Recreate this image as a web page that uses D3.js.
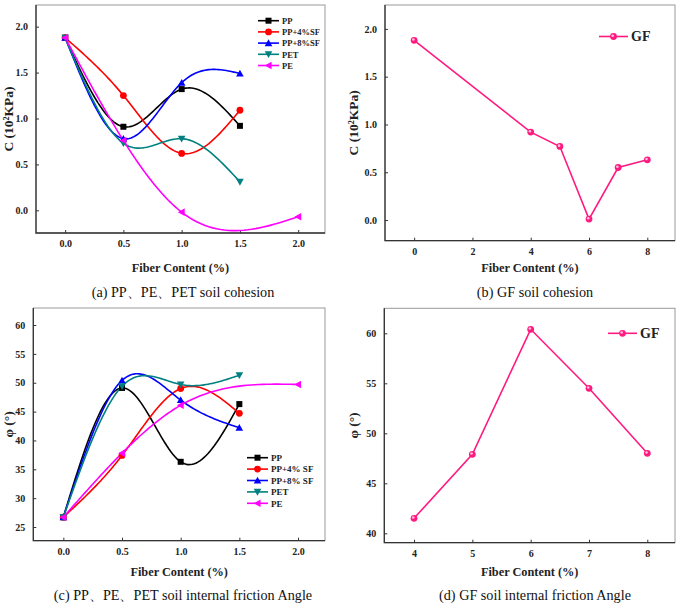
<!DOCTYPE html>
<html>
<head>
<meta charset="utf-8">
<script src="https://cdn.jsdelivr.net/npm/d3@7"></script>
<style>
  body { margin: 0; background: #fff; }
  text { font-family: "Liberation Serif", "Times New Roman", serif; }
</style>
</head>
<body>
<div id="chart"></div>
<script>
var w = 682;
var h = 607;

// panel (a) / (c) data
var fiberX = [0, 0.5, 1.0, 1.5];
var peX = [0, 0.5, 1.0, 2.0];
var seriesNames = ["PP", "PP+4%SF", "PP+8%SF", "PET", "PE"];
var seriesNamesC = ["PP", "PP+4% SF", "PP+8% SF", "PET", "PE"];
var cohPP = [1.88, 0.91, 1.32, 0.92];
var cohPP4 = [1.88, 1.25, 0.62, 1.09];
var cohPP8 = [1.88, 0.78, 1.39, 1.49];
var cohPET = [1.88, 0.73, 0.78, 0.31];
var cohPE = [1.88, 0.76, -0.02, -0.07];
var phiPP = [26.7, 49.1, 36.3, 46.3];
var phiPP4 = [26.7, 37.4, 49.0, 44.7];
var phiPP8 = [26.7, 50.4, 47.0, 42.2];
var phiPET = [26.7, 49.4, 49.7, 51.3];
var phiPE = [26.7, 37.8, 46.1, 49.7];

// panel (b) / (d) data
var gfX = [0, 4, 5, 6, 7, 8];
var gfCoh = [1.88, 0.92, 0.77, 0.01, 0.55, 0.63];
var gfX2 = [4, 5, 6, 7, 8];
var gfPhi = [41.5, 47.9, 60.4, 54.5, 48.0];

var colors = ["#000000", "#ff0000", "#0000ff", "#008080", "#ff00ff"];
var shapes = ["square", "circle", "up", "down", "left"];
var gfColor = "#ff1a80";

var svg1;

// natural cubic spline y(x), sampled for drawing
function spline(xs, ys) {
  var n = xs.length, hh = [], M = new Array(n).fill(0);
  for (var i = 0; i < n - 1; i++) hh.push(xs[i + 1] - xs[i]);
  // tridiagonal system for inner second derivatives
  var a = [], b = [], c = [], r = [];
  for (var i = 1; i < n - 1; i++) {
    a.push(hh[i - 1]); b.push(2 * (hh[i - 1] + hh[i])); c.push(hh[i]);
    r.push(6 * ((ys[i + 1] - ys[i]) / hh[i] - (ys[i] - ys[i - 1]) / hh[i - 1]));
  }
  var m = b.length;
  for (var i = 1; i < m; i++) {
    var k = a[i] / b[i - 1];
    b[i] -= k * c[i - 1];
    r[i] -= k * r[i - 1];
  }
  for (var i = m - 1; i >= 0; i--) {
    M[i + 1] = (r[i] - (i < m - 1 ? c[i] * M[i + 2] : 0)) / b[i];
  }
  var out = [];
  for (var i = 0; i < n - 1; i++) {
    var steps = 30;
    for (var s = 0; s <= steps; s++) {
      if (i > 0 && s == 0) continue;
      var x = xs[i] + hh[i] * s / steps;
      var A = xs[i + 1] - x, B = x - xs[i], H = hh[i];
      var y = M[i] * A * A * A / (6 * H) + M[i + 1] * B * B * B / (6 * H)
            + (ys[i] / H - M[i] * H / 6) * A + (ys[i + 1] / H - M[i + 1] * H / 6) * B;
      out.push([x, y]);
    }
  }
  return out;
}

function marker(g, shape, x, y, color) {
  if (shape == "square") {
    g.append("rect").attr("x", x - 3).attr("y", y - 3).attr("width", 6).attr("height", 6).attr("fill", color);
  } else if (shape == "circle") {
    g.append("circle").attr("cx", x).attr("cy", y).attr("r", 3.4).attr("fill", color);
  } else {
    var s = 3.8, pts;
    if (shape == "up") pts = [[x, y - s], [x - s, y + s * 0.8], [x + s, y + s * 0.8]];
    if (shape == "down") pts = [[x, y + s], [x - s, y - s * 0.8], [x + s, y - s * 0.8]];
    if (shape == "left") pts = [[x - s, y], [x + s * 0.8, y - s], [x + s * 0.8, y + s]];
    g.append("polygon").attr("points", pts.map(p => p.join(",")).join(" ")).attr("fill", color);
  }
}

function gfMarker(g, x, y) {
  g.append("circle").attr("cx", x).attr("cy", y).attr("r", 3.4).attr("fill", gfColor);
  g.append("circle").attr("cx", x - 0.8).attr("cy", y - 0.8).attr("r", 1.3).attr("fill", "#ffc0dc");
}

function Frame(p) {
  var x = d3.scaleLinear().domain(p.xDom).range([p.left, p.right]);
  var y = d3.scaleLinear().domain(p.yDom).range([p.bottom, p.top]);
  var g = svg1.append("g");

  // frame
  g.append("rect")
   .attr("x", p.left).attr("y", p.top)
   .attr("width", p.right - p.left).attr("height", p.bottom - p.top)
   .attr("fill", "none").attr("stroke", "#999").attr("stroke-width", 1);
  g.append("path")
   .attr("d", "M" + p.left + "," + p.top + "V" + p.bottom + "H" + p.right)
   .attr("fill", "none").attr("stroke", "#333").attr("stroke-width", 1.3);

  // axes with inward ticks
  var xa = g.append("g").attr("transform", "translate(0," + p.bottom + ")")
            .call(d3.axisBottom(x).tickValues(p.xTicks).tickSizeInner(-3).tickSizeOuter(0).tickPadding(7).tickFormat(p.xFmt));
  var ya = g.append("g").attr("transform", "translate(" + p.left + ",0)")
            .call(d3.axisLeft(y).tickValues(p.yTicks).tickSizeInner(-3).tickSizeOuter(0).tickPadding(8).tickFormat(p.yFmt));
  [xa, ya].forEach(a => {
    a.select(".domain").remove();
    a.selectAll("line").attr("stroke", "#333");
    a.selectAll("text").attr("font-family", "Liberation Serif").attr("font-weight", "bold")
     .attr("font-size", "10px").attr("fill", "#222");
  });

  // titles
  var cx = (p.left + p.right) / 2;
  g.append("text").attr("x", cx).attr("y", p.xTitleY).attr("text-anchor", "middle")
   .attr("font-weight", "bold").attr("font-size", "12.3px").attr("fill", "#222").text("Fiber Content (%)");
  g.append("text").attr("transform", "translate(" + p.yTitleX + "," + ((p.top + p.bottom) / 2) + ") rotate(-90)")
   .attr("text-anchor", "middle").attr("font-weight", "bold").attr("font-size", "13.5px").attr("fill", "#222")
   .text(p.yTitle);
  g.append("text").attr("x", p.capX).attr("y", p.capY).attr("text-anchor", "middle")
   .attr("font-size", "14.2px").attr("fill", "#111").text(p.caption);

  return {g: g, x: x, y: y};
}

function MultiPanel(p, xs, ys, names, leg) {
  var f = Frame(p);
  var line = d3.line().x(d => f.x(d[0])).y(d => f.y(d[1]));
  ys.forEach((vals, i) => {
    var xv = i == 4 ? peX : xs;
    f.g.append("path").datum(spline(xv, vals)).attr("d", line)
       .attr("fill", "none").attr("stroke", colors[i]).attr("stroke-width", 1.6);
  });
  ys.forEach((vals, i) => {
    var xv = i == 4 ? peX : xs;
    vals.forEach((v, j) => marker(f.g, shapes[i], f.x(xv[j]), f.y(v), colors[i]));
  });
  // legend
  names.forEach((n, i) => {
    var ly = leg.y + i * leg.dy;
    f.g.append("line").attr("x1", leg.x).attr("x2", leg.x + leg.len).attr("y1", ly).attr("y2", ly)
       .attr("stroke", colors[i]).attr("stroke-width", 1.6);
    marker(f.g, shapes[i], leg.x + leg.len / 2, ly, colors[i]);
    f.g.append("text").attr("x", leg.x + leg.len + 3).attr("y", ly + 3.2)
       .attr("font-weight", "bold").attr("font-size", leg.fs).attr("fill", "#222").text(n);
  });
}

function GfPanel(p, xs, vals, leg) {
  var f = Frame(p);
  var line = d3.line().x((d, i) => f.x(xs[i])).y(d => f.y(d));
  f.g.append("path").datum(vals).attr("d", line)
     .attr("fill", "none").attr("stroke", gfColor).attr("stroke-width", 1.6);
  vals.forEach((v, i) => gfMarker(f.g, f.x(xs[i]), f.y(v)));
  f.g.append("line").attr("x1", leg.x).attr("x2", leg.x + 29).attr("y1", leg.y).attr("y2", leg.y)
     .attr("stroke", gfColor).attr("stroke-width", 1.6);
  gfMarker(f.g, leg.x + 14.5, leg.y);
  f.g.append("text").attr("x", leg.x + 32).attr("y", leg.y + 4.5)
     .attr("font-weight", "bold").attr("font-size", "14px").attr("fill", "#222").text("GF");
}

function main() {
  svg1 = d3.select("#chart").append("svg").attr("width", w).attr("height", h);
  svg1.append("rect").attr("width", w).attr("height", h).attr("fill", "#fff");

  var f1 = d3.format(".1f");
  var f0 = d3.format("d");

  MultiPanel({
    left: 36, right: 325, top: 5, bottom: 233,
    xDom: [-0.25, 2.23], yDom: [-0.247, 2.236],
    xTicks: [0, 0.5, 1.0, 1.5, 2.0], yTicks: [0, 0.5, 1.0, 1.5, 2.0], xFmt: f1, yFmt: f1,
    xTitleY: 272, yTitleX: 13, yTitle: "C (10²KPa)",
    capX: 183, capY: 297, caption: "(a) PP、PE、PET soil cohesion"
  }, fiberX, [cohPP, cohPP4, cohPP8, cohPET, cohPE], seriesNames,
  {x: 258, y: 20.7, dy: 11.2, len: 21, fs: "8.5px"});

  GfPanel({
    left: 385, right: 675, top: 5, bottom: 240.7,
    xDom: [-1, 8.95], yDom: [-0.216, 2.25],
    xTicks: [0, 2, 4, 6, 8], yTicks: [0, 0.5, 1.0, 1.5, 2.0], xFmt: f0, yFmt: f1,
    xTitleY: 272, yTitleX: 358, yTitle: "C (10²KPa)",
    capX: 535, capY: 297, caption: "(b) GF soil cohesion"
  }, gfX, gfCoh, {x: 599, y: 36.5});

  MultiPanel({
    left: 33.3, right: 325, top: 308, bottom: 540.7,
    xDom: [-0.256, 2.23], yDom: [22.63, 62.95],
    xTicks: [0, 0.5, 1.0, 1.5, 2.0], yTicks: [25, 30, 35, 40, 45, 50, 55, 60], xFmt: f1, yFmt: f0,
    xTitleY: 576, yTitleX: 13, yTitle: "φ (°)",
    capX: 183, capY: 600, caption: "(c) PP、PE、PET soil internal friction Angle"
  }, fiberX, [phiPP, phiPP4, phiPP8, phiPET, phiPE], seriesNamesC,
  {x: 247, y: 457.7, dy: 11.4, len: 21, fs: "9px"});

  GfPanel({
    left: 384.3, right: 675, top: 308.3, bottom: 542.7,
    xDom: [3.49, 8.475], yDom: [39.06, 62.5],
    xTicks: [4, 5, 6, 7, 8], yTicks: [40, 45, 50, 55, 60], xFmt: f0, yFmt: f0,
    xTitleY: 576, yTitleX: 358, yTitle: "φ (°)",
    capX: 535, capY: 600, caption: "(d) GF soil internal friction Angle"
  }, gfX2, gfPhi, {x: 608, y: 333.3});
}

window.onload = function() {
  main();
};
</script>
</body>
</html>
